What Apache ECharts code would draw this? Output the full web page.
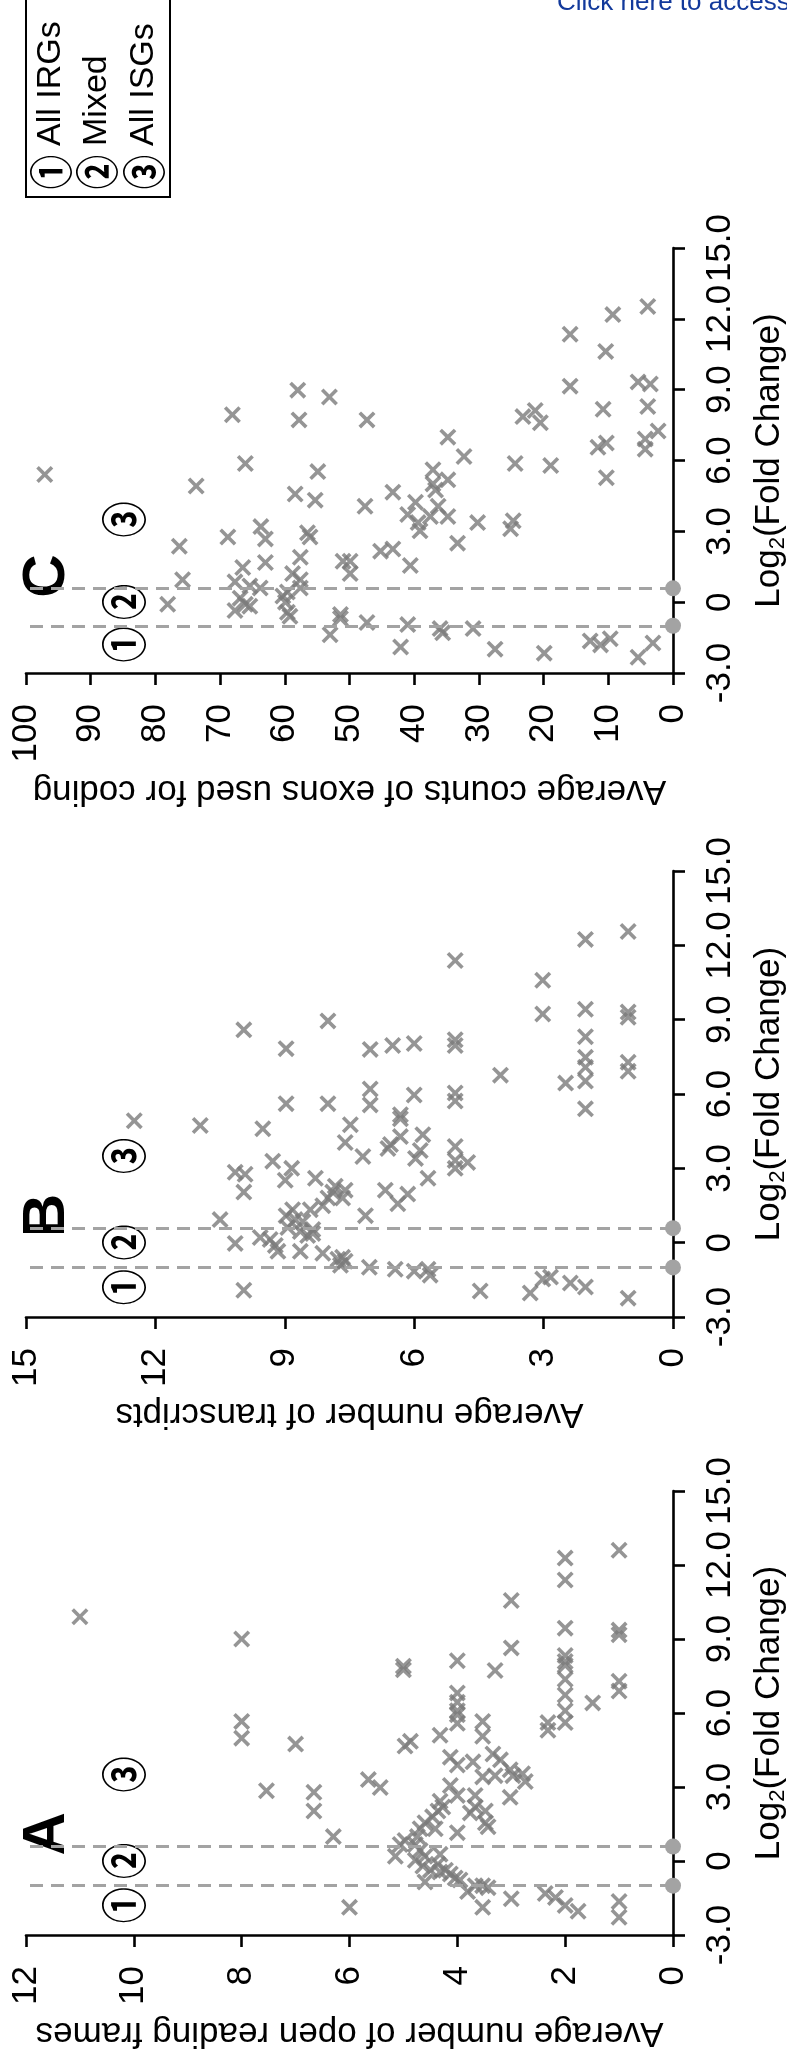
<!DOCTYPE html>
<html>
<head>
<meta charset="utf-8">
<script src="https://cdn.jsdelivr.net/npm/echarts@6/dist/echarts.min.js"></script>
<style>
  html, body { margin: 0; padding: 0; background: #fff; overflow: hidden; }
  #chart { width: 787px; height: 2059px; }
</style>
</head>
<body>
<div id="chart"></div>
<script>
// Each point: [average count, log2(fold change)]
const orfPoints = [
  [11, 9.9], [8, 9.0], [8, 5.66], [8, 4.98], [7, 4.74], [7.54, 2.85], [6.66, 2.79], [6.66, 2.03],
  [6.3, 0.99], [6, -1.88], [5.65, 3.3], [5.43, 2.98], [5, 7.9], [5, 7.75], [4.87, 4.85], [4.97, 4.66],
  [4.32, 5.1], [4, 8.12], [4, 6.81], [4, 6.44], [4, 6.09], [4, 5.93], [4, 5.58], [4.13, 4.21],
  [4, 3.89], [4.13, 3.06], [4, 2.66], [4, 1.15], [3.53, 5.66], [3.53, 5.06], [3.71, 4.02], [3.53, 3.41],
  [3.34, 4.34], [3.3, 3.46], [3.2, 4.1], [3.02, 3.7], [2.97, 3.46], [2.79, 3.54], [2.74, 3.22], [3.02, 2.58],
  [3.3, 7.72], [3, 8.64], [3, 10.56], [3.67, 2.66], [3.67, 2.19], [3.76, 1.95], [3.48, 2.03], [3.48, 1.55],
  [3.43, 1.39], [4.27, 2.19], [4.32, 2.42], [4.36, 2.03], [4.46, 1.79], [4.6, 1.55], [4.41, 1.31], [4.69, 1.31],
  [4.74, 0.99], [4.97, 0.83], [5.06, 0.67], [4.78, 0.67], [5.15, 0.19], [4.69, 0.43], [4.6, 0.19], [4.32, 0.27],
  [4.78, 0.03], [4.64, -0.2], [4.5, -0.37], [4.32, -0.45], [4.6, -0.85], [4.36, -0.13], [4.22, -0.37], [4.13, -0.53],
  [4.04, -0.69], [3.95, -0.77], [3.81, -1.24], [3.67, -1.0], [3.53, -1.0], [3.43, -1.08], [3.53, -1.88], [3, -1.53],
  [2.37, -1.32], [2.18, -1.48], [2, -1.8], [1.76, -2.04], [2.32, 5.61], [2.32, 5.3], [2, 12.28], [2, 11.39],
  [2, 9.44], [2, 8.33], [2, 8.09], [2, 7.93], [2, 7.37], [2, 6.73], [2, 6.09], [2, 5.61],
  [1.49, 6.41], [1, 12.6], [1, 9.36], [1, 9.17], [1, 7.29], [1, 6.89], [1, -1.64], [1, -2.28]
];

const transcriptPoints = [
  [12.49, 4.92], [10.96, 4.73], [9.95, 8.59], [10.15, 2.84], [9.92, 2.76], [9.95, 2.04], [10.5, 0.93], [10.15, -0.03],
  [9.95, -1.92], [9.51, 4.6], [9.57, 0.21], [9.34, 0.13], [9.28, 3.29], [9.22, -0.11], [9.16, -0.35], [8.97, 7.83],
  [8.97, 5.61], [8.99, 2.52], [8.84, 3.0], [8.97, 1.09], [8.93, 0.61], [8.82, 1.33], [8.76, 0.93], [8.64, 0.45],
  [8.58, 0.85], [8.64, -0.35], [8.47, 0.29], [8.35, 0.53], [8.35, 0.37], [8.41, 1.33], [8.29, 2.6], [8.12, -0.43],
  [8.12, 1.49], [8.0, 8.95], [8.0, 5.61], [8.0, 1.8], [7.89, 2.04], [7.83, 2.28], [7.77, -0.67], [7.71, -0.91],
  [7.66, -0.59], [7.6, -0.75], [7.6, 2.12], [7.66, 1.8], [7.48, 4.76], [7.6, 4.04], [7.19, 3.48], [7.13, 1.09],
  [7.02, 7.8], [7.02, 6.2], [7.02, 5.56], [7.04, -0.99], [6.67, 2.12], [6.5, 7.96], [6.44, -1.07], [6.32, 5.16],
  [6.32, 5.0], [6.38, 1.57], [6.61, 3.8], [6.55, 3.96], [6.32, 4.28], [6.15, 1.96], [6.0, 8.04], [6.0, 5.96],
  [5.97, 3.4], [5.86, 3.72], [5.8, 4.36], [5.68, 2.6], [6.0, -1.15], [5.68, -1.07], [5.63, -1.31], [5.05, 11.39],
  [5.05, 8.19], [5.05, 7.96], [5.05, 6.04], [5.05, 5.72], [5.05, 3.88], [5.05, 3.32], [5.05, 3.0], [4.76, 3.24],
  [4.47, -1.95], [4.0, 6.76], [3.31, -2.03], [3.02, 10.59], [3.02, 9.23], [3.02, -1.47], [2.84, -1.39], [2.49, 6.44],
  [2.38, -1.63], [2.03, 12.24], [2.03, 9.42], [2.03, 8.31], [2.03, 7.48], [2.03, 7.08], [2.03, 6.52], [2.03, 5.4],
  [2.03, -1.79], [1.04, 12.56], [1.04, 9.31], [1.04, 9.1], [1.04, 7.28], [1.04, 6.92], [1.04, -2.24]
];

const exonPoints = [
  [97.1, 5.41], [78.1, -0.09], [76.3, 2.37], [75.8, 0.95], [73.7, 4.92], [68.8, 2.76], [68.1, 7.94], [67.7, 0.86],
  [67.7, -0.35], [66.9, 0.17], [66.5, 1.47], [66.1, 5.87], [66.1, -0.09], [65.4, 0.69], [65.4, -0.17], [63.8, 0.6],
  [63.7, 3.2], [63.0, 2.68], [63.0, 1.68], [60.3, 0.26], [59.9, 0], [59.6, -0.43], [59.2, -0.6], [59.6, 0.43],
  [58.4, 4.58], [58.8, 1.21], [58.0, 8.98], [57.8, 7.72], [57.6, 0.6], [57.6, 0.95], [57.6, 1.9], [56.5, 2.94],
  [56.1, 2.76], [55.3, 4.32], [54.9, 5.53], [53.1, 8.69], [53.0, -1.38], [51.4, -0.69], [51.4, -0.52], [51.0, 1.73],
  [49.9, 1.73], [49.9, 1.21], [47.3, 7.72], [47.6, 4.06], [47.3, -0.86], [45.2, 2.16], [43.3, 2.25], [43.3, 4.66],
  [42.1, -1.9], [41.0, -0.95], [40.6, 1.55], [41.0, 3.71], [39.8, 4.23], [39.4, 3.37], [39.1, 3.02], [37.5, 3.63],
  [37.1, 5.01], [37.1, 5.61], [36.7, 4.75], [36.3, 4.06], [36.0, -1.12], [35.6, -1.3], [34.8, 6.99], [34.8, 5.18],
  [34.8, 3.63], [33.3, 2.5], [32.3, 6.17], [30.9, -1.12], [30.2, 3.37], [27.5, -1.99], [25.1, 3.11], [24.7, 3.45],
  [24.4, 5.87], [23.2, 7.86], [21.3, 8.12], [20.5, 7.6], [19.9, -2.16], [18.9, 5.79], [15.9, 11.35], [15.9, 9.15],
  [12.8, -1.64], [11.6, 6.56], [11.2, -1.81], [10.8, 8.17], [10.4, 10.62], [10.3, 6.74], [10.3, 5.27], [9.7, -1.55],
  [9.3, 12.18], [5.4, 9.33], [5.4, -2.33], [4.3, 6.91], [4.3, 6.48], [3.9, 12.52], [3.9, 8.29], [3.5, 9.24],
  [3.1, -1.73], [2.3, 7.25]
];

// Fold-change cut-offs separating the three gene groups
const foldCutoffs = [-1, 0.585];
const groupMarks = ['\u2460', '\u2461', '\u2462'];
const groupMarkLog2 = [-1.8, 0, 3.5];
const legendLabels = ['All IRGs', 'Mixed', 'All ISGs'];
const panelLetters = ['A', 'B', 'C'];
const countTitles = [
  'Average number of open reading frames',
  'Average number of transcripts',
  'Average counts of exons used for coding'
];
const countMax = [12, 15, 100];
const countStep = [2, 3, 10];
const fcMin = -3, fcMax = 15, fcStep = 3;

const FONT = "'Liberation Sans', Arial, Helvetica, sans-serif";
const CJK = "'Noto Sans CJK JP', 'Noto Sans CJK SC', sans-serif";
const plotLeft = 26, plotRight = 673;
const panelTops = [1491, 871, 248];
const panelBottoms = [1935, 1317, 673];
const countTitleGap = [98, 97, 118];
const pointSets = [orfPoints, transcriptPoints, exonPoints];

// filled "x" glyph used for every gene
const CROSS = 'path://M0,1.5L1.5,0L5,3.5L8.5,0L10,1.5L6.5,5L10,8.5L8.5,10L5,6.5L1.5,10L0,8.5L3.5,5Z';

const chart = echarts.init(document.getElementById('chart'), null, { renderer: 'canvas' });

const axisLineStyle = { color: '#000', width: 2.6 };
const grids = [], xAxes = [], yAxes = [], series = [];

pointSets.forEach((pts, i) => {
  grids.push({
    left: plotLeft, width: plotRight - plotLeft,
    top: panelTops[i], height: panelBottoms[i] - panelTops[i],
    containLabel: false, outerBoundsMode: 'none'
  });
  xAxes.push({
    gridIndex: i, type: 'value', min: 0, max: countMax[i], interval: countStep[i],
    inverse: true, position: 'bottom',
    axisLine: { show: true, onZero: false, lineStyle: axisLineStyle },
    axisTick: { show: true, inside: false, length: 12, lineStyle: axisLineStyle },
    axisLabel: { rotate: 90, margin: 31, fontSize: 35, color: '#000', fontFamily: FONT, hideOverlap: false },
    splitLine: { show: false }
  });
  yAxes.push({
    gridIndex: i, type: 'value', min: fcMin, max: fcMax, interval: fcStep, position: 'right',
    axisLine: { show: true, onZero: false, lineStyle: axisLineStyle },
    axisTick: { show: true, inside: false, length: 12, lineStyle: axisLineStyle },
    axisLabel: {
      rotate: 90, margin: 30, fontSize: 35, color: '#000', fontFamily: FONT, hideOverlap: false,
      formatter: v => (v === 0 ? '0' : v.toFixed(1))
    },
    splitLine: { show: false }
  });
  series.push({
    type: 'scatter', xAxisIndex: i, yAxisIndex: i,
    data: pts, symbol: CROSS, symbolSize: 17,
    itemStyle: { color: '#7a7a7a' },
    silent: true, animation: false, z: 3,
    markLine: {
      silent: true, animation: false,
      symbol: ['circle', 'none'], symbolSize: 16,
      label: { show: false },
      lineStyle: { color: '#a3a3a3', type: [13, 8], width: 3 },
      emphasis: { disabled: true },
      data: foldCutoffs.map(c => [{ coord: [0, c] }, { coord: [countMax[i], c] }])
    }
  });
});

chart.setOption({
  backgroundColor: '#fff',
  animation: false,
  grid: grids, xAxis: xAxes, yAxis: yAxes, series: series
});

// Annotations placed through the axes' own coordinate systems
const graphics = [];
pointSets.forEach((pts, i) => {
  const toPx = (x, y) => chart.convertToPixel({ gridIndex: i }, [x, y]);
  const markX = countMax[i] * 0.85;
  groupMarks.forEach((m, k) => {
    const p = toPx(markX, groupMarkLog2[k]);
    graphics.push({
      type: 'text', x: p[0], y: p[1], rotation: Math.PI / 2, scaleX: 0.78, silent: true,
      style: { text: m, fontSize: 46, fontWeight: 'bold', fontFamily: CJK, fill: '#000', align: 'center', verticalAlign: 'middle' }
    });
  });
  const lp = toPx(countMax[i] * 0.967, 1.1);
  graphics.push({
    type: 'text', x: lp[0], y: lp[1], rotation: Math.PI / 2, silent: true,
    style: { text: panelLetters[i], fontSize: 60, fontWeight: 'bold', fontFamily: FONT, fill: '#000', align: 'center', verticalAlign: 'middle' }
  });
  graphics.push({
    type: 'text', x: (plotLeft + plotRight) / 2, y: panelBottoms[i] + countTitleGap[i], rotation: Math.PI, silent: true,
    style: { text: countTitles[i], fontSize: 35, fontFamily: FONT, fill: '#000', align: 'center', verticalAlign: 'middle' }
  });
  graphics.push({
    type: 'text', x: 769, y: (panelTops[i] + panelBottoms[i]) / 2, rotation: Math.PI / 2, silent: true,
    style: {
      text: '{n|Log}{s|2}{n|(Fold Change)}', align: 'center', verticalAlign: 'middle',
      rich: {
        n: { fontSize: 35, fontFamily: FONT, fill: '#000', lineHeight: 40 },
        s: { fontSize: 22, fontFamily: FONT, fill: '#000', verticalAlign: 'bottom', lineHeight: 40 }
      }
    }
  });
});

// Group legend
const legendX = [51, 97, 144];
graphics.push({
  type: 'rect', silent: true,
  shape: { x: 26, y: -4, width: 144, height: 201 },
  style: { fill: '#fff', stroke: '#000', lineWidth: 2 }
});
legendLabels.forEach((t, k) => {
  graphics.push({
    type: 'text', x: legendX[k], y: 172, rotation: Math.PI / 2, scaleX: 0.78, silent: true,
    style: { text: groupMarks[k], fontSize: 44, fontWeight: 'bold', fontFamily: CJK, fill: '#000', align: 'center', verticalAlign: 'middle' }
  });
  graphics.push({
    type: 'text', x: legendX[k], y: 146, rotation: Math.PI / 2, silent: true,
    style: { text: t, fontSize: 34, fontFamily: FONT, fill: '#000', align: 'left', verticalAlign: 'middle' }
  });
});

graphics.push({
  type: 'text', x: 557, y: 3, silent: true,
  style: { text: 'Click here to access/download', fontSize: 26, fontFamily: FONT, fill: '#12399b', align: 'left', verticalAlign: 'middle' }
});

chart.setOption({ graphic: graphics });
</script>
</body>
</html>
